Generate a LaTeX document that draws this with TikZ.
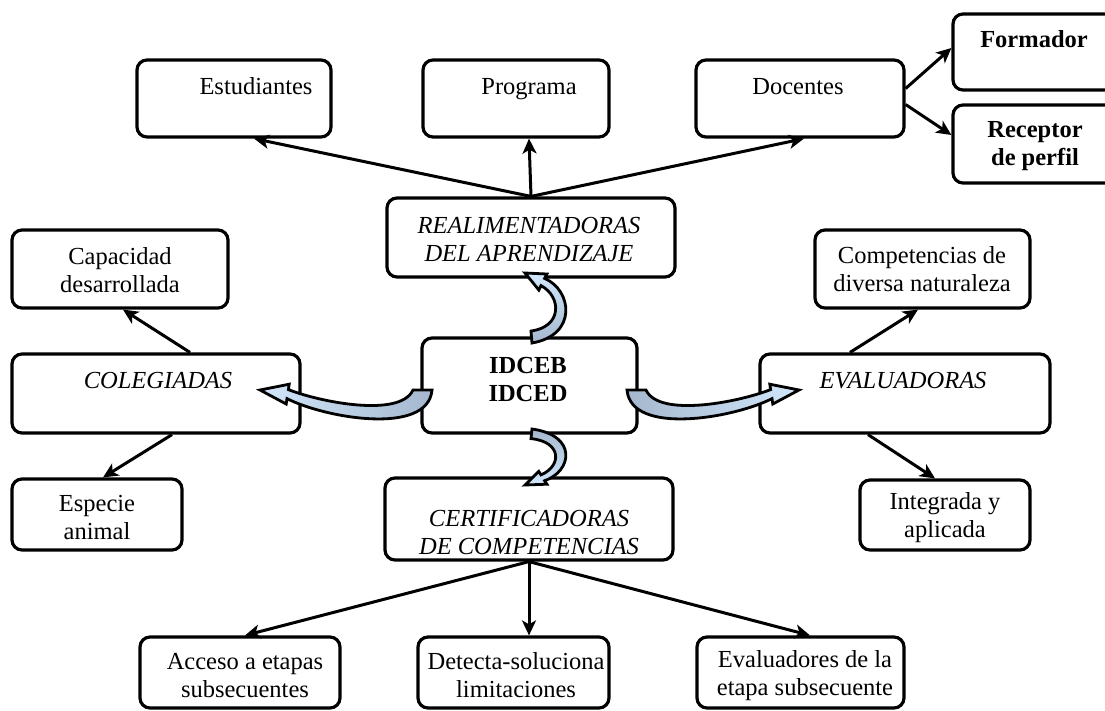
\documentclass[tikz,border=0pt]{standalone}
\usepackage{fontspec}
\setmainfont{Liberation Serif}
\usetikzlibrary{arrows.meta}
\definecolor{headblue}{HTML}{D2E7FB}
\definecolor{tailblue}{HTML}{A4B7CE}
\tikzset{
  box/.style={draw, line width=3.2pt, rounded corners=10pt, fill=white, inner sep=0pt},
  txt/.style={align=center, inner sep=0pt, font=\fontsize{24.5}{28}\selectfont},
  btxt/.style={align=center, inner sep=0pt, font=\fontsize{24.5}{28}\selectfont\bfseries},
  itxt/.style={align=center, inner sep=0pt, font=\fontsize{24.5}{28}\selectfont\itshape},
  arr/.style={line width=3pt, -{Stealth[length=15pt,width=14pt,inset=4pt]}},
  carrow/.style={draw=black, line width=2.8pt, line join=miter}
}
\begin{document}
\begin{tikzpicture}[x=1pt,y=-1pt]
\useasboundingbox (0,0) rectangle (1105,710);
\clip (0,0) rectangle (1105,710);
% boxes
\node[box, minimum width=194pt, minimum height=77pt] (est) at (234,98.5) {};
\node[box, minimum width=186pt, minimum height=77pt] (prog) at (516,98.5) {};
\node[box, minimum width=208pt, minimum height=77pt] (doc) at (800,98.5) {};
\node[box, minimum width=172pt, minimum height=76pt] (form) at (1039,52) {};
\node[box, minimum width=172pt, minimum height=78pt] (rec) at (1039,144) {};
\node[box, minimum width=288pt, minimum height=79pt] (real) at (531,237.5) {};
\node[box, minimum width=215pt, minimum height=95pt] (idc) at (529.5,385.5) {};
\node[box, minimum width=216pt, minimum height=78pt] (cap) at (120,269) {};
\node[box, minimum width=288pt, minimum height=79pt] (col) at (156,393.5) {};
\node[box, minimum width=170pt, minimum height=71pt] (esp) at (97,514.5) {};
\node[box, minimum width=288pt, minimum height=82pt] (cert) at (529,519) {};
\node[box, minimum width=215pt, minimum height=78pt] (comp) at (922.5,269) {};
\node[box, minimum width=290pt, minimum height=79pt] (eval) at (905,393.5) {};
\node[box, minimum width=170pt, minimum height=70pt] (integ) at (945,515) {};
\node[box, minimum width=200pt, minimum height=71pt] (acc) at (240,672.5) {};
\node[box, minimum width=191pt, minimum height=71pt] (det) at (513.5,672.5) {};
\node[box, minimum width=207pt, minimum height=71pt] (evr) at (800.5,672.5) {};
% texts
\node[txt, anchor=base] (t-est) at (256,94) {Estudiantes};
\node[txt, anchor=base] (t-prog) at (529,94) {Programa};
\node[txt, anchor=base] (t-doc) at (798,94) {Docentes};
\node[btxt] (t-form) at (1034,39) {Formador};
\node[btxt] (t-rec) at (1035,146.5) {Receptor\\de perfil};
\node[itxt] (t-real) at (529,239.5) {REALIMENTADORAS\\DEL APRENDIZAJE};
\node[txt] (t-cap) at (120,270) {Capacidad\\desarrollada};
\node[txt] (t-comp) at (922,269) {Competencias de\\diversa naturaleza};
\node[btxt] (t-idc) at (528,379.5) {IDCEB\\IDCED};
\node[itxt] (t-col) at (158,381) {COLEGIADAS};
\node[itxt] (t-eval) at (903,381) {EVALUADORAS};
\node[txt] (t-esp) at (97,517.5) {Especie\\animal};
\node[itxt] (t-cert) at (529,532.5) {CERTIFICADORAS\\DE COMPETENCIAS};
\node[txt] (t-integ) at (945,517.5) {Integrada y\\aplicada};
\node[txt] (t-acc) at (245,675.5) {Acceso a etapas\\subsecuentes};
\node[txt] (t-det) at (516,675.5) {Detecta-soluciona\\limitaciones};
\node[txt] (t-evr) at (805,675.5) {Evaluadores de la\\etapa subsecuente};
% straight connectors
\draw[arr] (real.north) -- ([xshift=20pt]est.south);
\draw[arr] (real.north) -- ([xshift=13pt]prog.south);
\draw[arr] (real.north) -- ([xshift=4pt]doc.south);
\draw[arr] ([yshift=10pt]doc.east) -- ([yshift=4pt]form.west);
\draw[arr] ([yshift=-6pt]doc.east) -- ([yshift=9pt]rec.west);
\draw[arr] ([xshift=34pt]col.north) -- ([xshift=3pt]cap.south);
\draw[arr] ([xshift=16pt]col.south) -- ([xshift=6pt]esp.north);
\draw[arr] ([xshift=-55pt]eval.north) -- ([xshift=-4.5pt]comp.south);
\draw[arr] ([xshift=-37pt]eval.south) -- ([xshift=-10pt]integ.north);
\draw[arr] (cert.south) -- ([xshift=5pt]acc.north);
\draw[arr] (cert.south) -- ([xshift=15.5pt]det.north);
\draw[arr] (cert.south) -- ([xshift=9.5pt]evr.north);
% curved block arrows
% up: idc -> real
\draw[carrow, top color=headblue, bottom color=tailblue]
  (525,273) -- (546.9,274) -- (544.6,278.4)
  .. controls (572,290) and (578,335) .. (532,343)
  -- (531,331)
  .. controls (562,327) and (562,297) .. (541,285.6)
  -- (538.8,290) -- cycle;
% down: idc -> cert
\draw[carrow, top color=tailblue, bottom color=headblue]
  (525,485) -- (546.9,484.2) -- (544.6,480.7)
  .. controls (572,471.4) and (578,435.4) .. (532,429)
  -- (531,438.6)
  .. controls (562,441.8) and (562,465.8) .. (541,474.9)
  -- (538.8,471.4) -- cycle;
% left: idc -> col
\draw[carrow, left color=headblue, right color=tailblue]
  (260,390) -- (289.2,384.2) -- (288.4,389.6)
  .. controls (320,402) and (400,418) .. (413,390)
  -- (432,390)
  .. controls (428,436) and (325,418) .. (287,398.6)
  -- (286.2,404) -- cycle;
% right: idc -> eval
\draw[carrow, left color=tailblue, right color=headblue]
  (799,390) -- (769.8,384.2) -- (770.6,389.6)
  .. controls (739,402) and (659,418) .. (646,390)
  -- (627,390)
  .. controls (631,436) and (734,418) .. (772,398.6)
  -- (772.8,404) -- cycle;
\end{tikzpicture}
\end{document}
